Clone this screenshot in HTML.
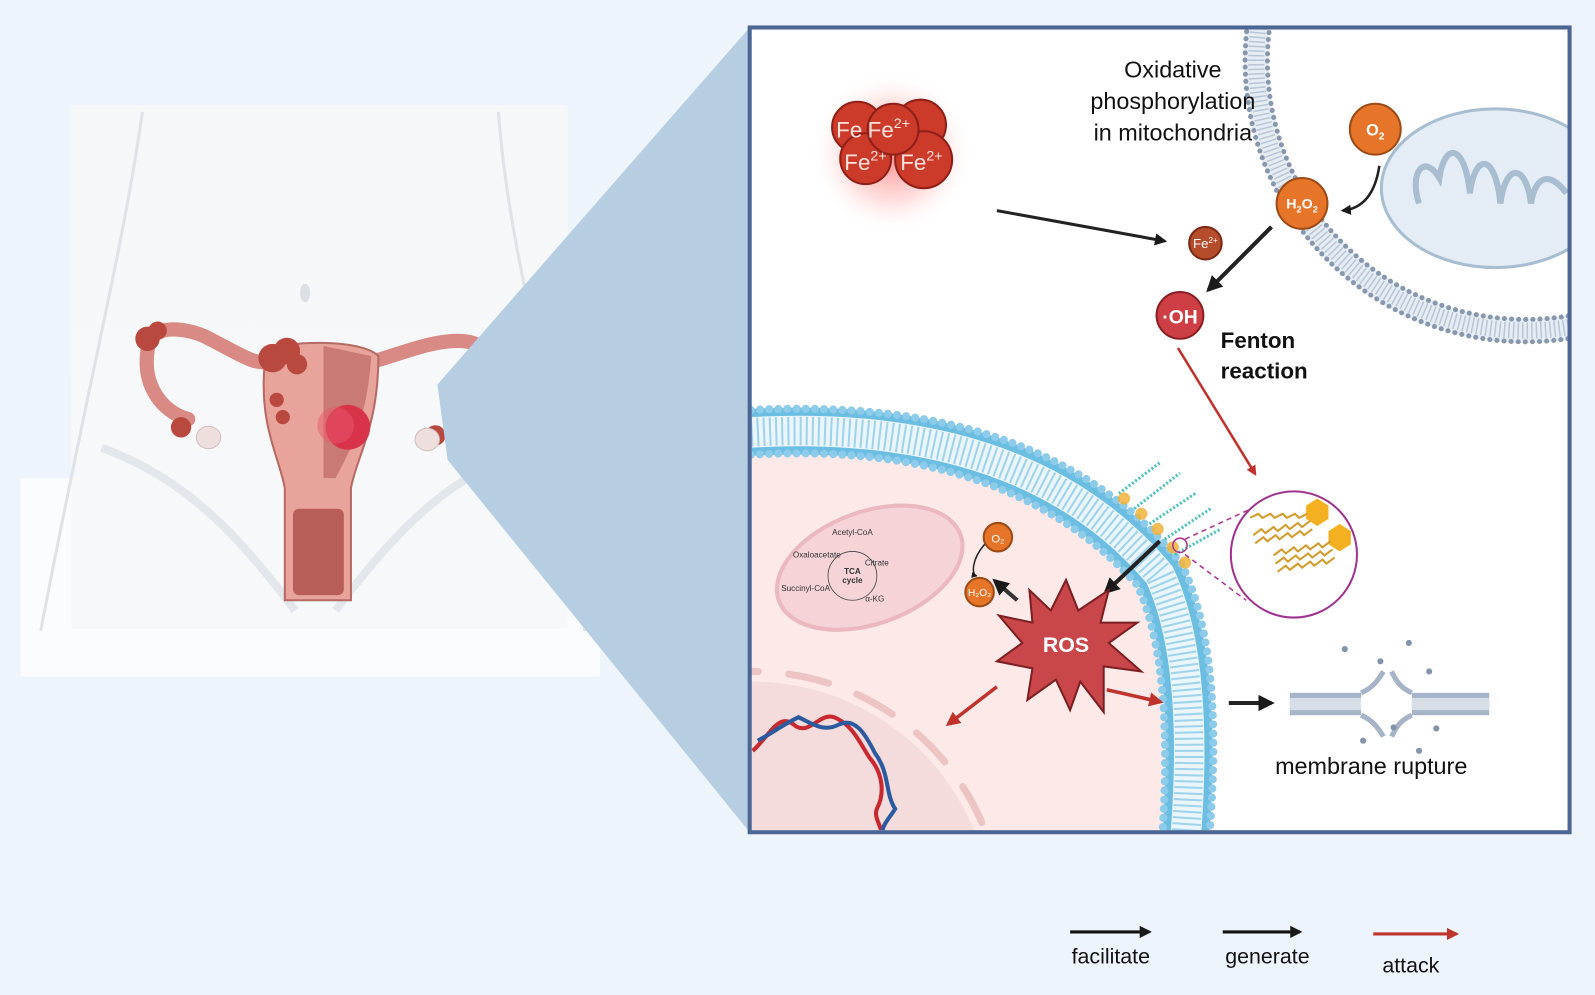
<!DOCTYPE html>
<html><head><meta charset="utf-8"><style>
html,body{margin:0;padding:0;background:#eef4fb;width:1595px;height:995px;overflow:hidden;}
svg{display:block;}
text{font-family:"Liberation Sans",sans-serif;}
</style></head><body>
<svg width="1595" height="995" viewBox="0 0 1568 978" preserveAspectRatio="none" xmlns="http://www.w3.org/2000/svg">
<defs>
<radialGradient id="glow"><stop offset="0" stop-color="#ff2a2a" stop-opacity="0.55"/><stop offset="0.6" stop-color="#ff6060" stop-opacity="0.2"/><stop offset="1" stop-color="#ffffff" stop-opacity="0"/></radialGradient>
<linearGradient id="bodyg" x1="0" y1="0" x2="0" y2="1"><stop offset="0" stop-color="#f5f7f9"/><stop offset="1" stop-color="#f7f8fa"/></linearGradient>
<marker id="ab" viewBox="0 0 10 10" refX="8" refY="5" markerWidth="4" markerHeight="4" orient="auto"><path d="M0,0 L10,5 L0,10 Z" fill="#1a1a1a"/></marker>
<marker id="ar" viewBox="0 0 10 10" refX="8" refY="5" markerWidth="4" markerHeight="4" orient="auto"><path d="M0,0 L10,5 L0,10 Z" fill="#c0332c"/></marker>
</defs>
<rect width="1568" height="978" fill="#eef4fb"/>
<!-- left panel -->
<rect x="20" y="470" width="570" height="195" fill="#fbfcfd"/>
<rect x="70" y="103" width="488" height="515" fill="url(#bodyg)"/>
<path d="M140,110 C120,250 90,360 40,620" fill="none" stroke="#dfe3e7" stroke-width="3"/>
<path d="M490,110 C500,250 540,360 575,620" fill="none" stroke="#dfe3e7" stroke-width="3"/>
<path d="M100,440 C180,470 230,520 290,600" fill="none" stroke="#e3e6ea" stroke-width="8"/>
<path d="M520,440 C440,470 390,520 330,600" fill="none" stroke="#e3e6ea" stroke-width="8"/>
<ellipse cx="300" cy="288" rx="5" ry="9" fill="#dcdfe3"/>
<!-- uterus -->
<g>
<path d="M145,345 C145,320 175,320 200,330 C240,350 250,360 270,355" fill="none" stroke="#d98a84" stroke-width="14" stroke-linecap="round"/>
<path d="M145,345 C140,380 160,405 185,412" fill="none" stroke="#d98a84" stroke-width="14" stroke-linecap="round"/>
<path d="M350,360 C390,350 420,335 450,335 C480,335 495,355 480,390 C470,410 455,420 445,425" fill="none" stroke="#d98a84" stroke-width="14" stroke-linecap="round"/>
<path d="M265,345 C275,335 355,332 372,350 C372,420 350,450 345,480 L345,590 L280,590 L280,480 C275,450 255,420 260,360 Z" fill="#e8a39b" stroke="#b66a64" stroke-width="2"/>
<path d="M318,340 L365,350 C360,420 340,450 330,470 L318,470 Z" fill="#c97a74"/>
<rect x="288" y="500" width="50" height="85" rx="6" fill="#b85d58"/>
<g fill="#b9483f">
<circle cx="145" cy="333" r="12"/><circle cx="155" cy="325" r="9"/>
<circle cx="268" cy="352" r="14"/><circle cx="282" cy="345" r="13"/><circle cx="292" cy="358" r="10"/>
<circle cx="272" cy="393" r="7"/><circle cx="278" cy="410" r="7"/>
<circle cx="178" cy="420" r="10"/><circle cx="428" cy="428" r="10"/><circle cx="470" cy="368" r="6"/>
</g>
<ellipse cx="205" cy="430" rx="12" ry="11" fill="#eedede" stroke="#d3bebe"/>
<ellipse cx="420" cy="432" rx="12" ry="11" fill="#eedede" stroke="#d3bebe"/>
<circle cx="342" cy="420" r="22" fill="#d9334a"/>
<circle cx="330" cy="418" r="18" fill="#e75a6b" opacity="0.5"/>
</g>
<!-- blue projection -->
<polygon points="430,378 737,27 737,818 440,452" fill="#b6cde2"/>
<!-- frame -->
<rect x="737" y="27" width="806" height="791" fill="#ffffff"/>
<clipPath id="fc"><rect x="739" y="29" width="802" height="787"/></clipPath>
<g clip-path="url(#fc)">
<circle cx="1500" cy="60" r="265" fill="none" stroke="#e6ecf3" stroke-width="24"/>
<circle cx="1500" cy="60" r="265" fill="none" stroke="#b8c6d6" stroke-width="16" stroke-dasharray="1.5 3"/>
<circle cx="1500" cy="60" r="276" fill="none" stroke="#8797ad" stroke-width="5" stroke-dasharray="0 7" stroke-linecap="round"/>
<circle cx="1500" cy="60" r="254" fill="none" stroke="#8797ad" stroke-width="5" stroke-dasharray="0 7" stroke-linecap="round"/>
<ellipse cx="1470" cy="185" rx="112" ry="78" fill="#e4edf6" stroke="#a9bdd0" stroke-width="3"/>
<path d="M1395,200 C1385,170 1400,150 1415,175 C1420,140 1440,140 1445,190 C1450,150 1470,150 1475,200 C1480,160 1500,160 1505,200 C1510,170 1525,170 1540,190" fill="none" stroke="#a9bdd0" stroke-width="6"/>
<!-- cell interior -->
<path d="M738,410 Q1000,395 1140,560 Q1175,650 1160,820 L738,820 Z" fill="#fdeae8"/>
<circle cx="740" cy="905" r="235" fill="#f4dcdc"/>
<circle cx="740" cy="905" r="245" fill="none" stroke="#ecc4c4" stroke-width="7" stroke-dasharray="40 30" stroke-linecap="round"/>
<!-- cell membrane -->
<path d="M738,425 Q1010,410 1140,565 Q1180,650 1165,830" fill="none" stroke="#6cbde2" stroke-width="46"/>
<path d="M738,425 Q1010,410 1140,565 Q1180,650 1165,830" fill="none" stroke="#eaf6fb" stroke-width="30"/>
<path d="M738,425 Q1010,410 1140,565 Q1180,650 1165,830" fill="none" stroke="#9fd3ec" stroke-width="28" stroke-dasharray="2 4"/>
<path d="M738,447 Q990,432 1118,575 Q1155,655 1142,830" fill="none" stroke="#8ccbe9" stroke-width="8" stroke-dasharray="0 9" stroke-linecap="round"/>
<path d="M738,403 Q1030,388 1162,555 Q1205,645 1188,830" fill="none" stroke="#8ccbe9" stroke-width="8" stroke-dasharray="0 9" stroke-linecap="round"/>
<!-- DNA -->
<path d="M740,738 C755,725 765,700 780,712 C795,725 805,700 820,705 C838,712 845,730 855,745 C868,760 870,780 862,795 C858,805 870,815 866,825" fill="none" stroke="#c8282e" stroke-width="4"/>
<path d="M745,728 C760,720 770,712 785,705 C800,712 810,720 825,712 C840,705 850,720 860,740 C875,760 870,780 880,795 C872,808 862,815 872,825" fill="none" stroke="#2b5a9e" stroke-width="4"/>
</g>
<rect x="737" y="27" width="806" height="791" fill="none" stroke="#4b6694" stroke-width="4"/>
<g stroke="#49c1bd" stroke-width="3" stroke-dasharray="2 2">
<line x1="1100" y1="485" x2="1140" y2="455"/><line x1="1115" y1="500" x2="1160" y2="465"/><line x1="1130" y1="515" x2="1175" y2="485"/><line x1="1145" y1="530" x2="1190" y2="500"/><line x1="1155" y1="545" x2="1200" y2="520"/>
</g>
<g fill="#f2b33a" opacity="0.85"><circle cx="1105" cy="490" r="6"/><circle cx="1122" cy="505" r="6"/><circle cx="1138" cy="520" r="6"/><circle cx="1153" cy="538" r="6"/><circle cx="1165" cy="553" r="6"/></g>
<circle cx="1160" cy="536" r="7" fill="none" stroke="#b0338f" stroke-width="1.5"/>
<path d="M1165,530 L1230,500 M1165,545 L1225,590" stroke="#b0338f" stroke-width="1.5" stroke-dasharray="5 4"/>
<circle cx="1272" cy="545" r="62" fill="#fff" stroke="#a0338f" stroke-width="2"/>
<polygon points="1295,490 1306,497 1306,510 1295,517 1284,510 1284,497" fill="#f4b021"/>
<polygon points="1317,515 1328,522 1328,535 1317,542 1306,535 1306,522" fill="#f4b021"/>
<g fill="none" stroke="#d39b2a" stroke-width="2">
<path d="M1285,505 l-8,4 l-4,-4 l-8,4 l-4,-4 l-8,4 l-4,-4 l-8,4 l-4,-4 l-8,4"/>
<path d="M1288,512 l-8,6 l-4,-4 l-8,6 l-4,-4 l-8,6 l-4,-4 l-8,6 l-4,-4 l-8,6"/>
<path d="M1290,520 l-8,6 l-4,-4 l-8,6 l-4,-4 l-8,6 l-4,-4 l-8,6 l-4,-4 l-8,6"/>
<path d="M1308,532 l-8,6 l-4,-4 l-8,6 l-4,-4 l-8,6 l-4,-4 l-8,6 l-4,-4 l-8,6"/>
<path d="M1310,540 l-8,6 l-4,-4 l-8,6 l-4,-4 l-8,6 l-4,-4 l-8,6 l-4,-4 l-8,6"/>
<path d="M1312,548 l-8,6 l-4,-4 l-8,6 l-4,-4 l-8,6 l-4,-4 l-8,6 l-4,-4 l-8,6"/>
</g>
<ellipse cx="855" cy="558" rx="95" ry="55" transform="rotate(-20 855 558)" fill="#f5d3d6" stroke="#eab8be" stroke-width="4"/>
<g font-size="8" fill="#333" text-anchor="middle">
<text x="838" y="526">Acetyl-CoA</text><text x="803" y="548">Oxaloacetate</text><text x="862" y="556">Citrate</text>
<text x="838" y="564" font-weight="bold">TCA</text><text x="838" y="573" font-weight="bold">cycle</text>
<text x="792" y="581">Succinyl-CoA</text><text x="860" y="591">α-KG</text>
</g>
<circle cx="838" cy="566" r="24" fill="none" stroke="#444" stroke-width="0.8"/>
<circle cx="981" cy="528" r="14" fill="#e6752a" stroke="#9c4a16" stroke-width="2"/><text x="981" y="533" font-size="11" fill="#fff" text-anchor="middle">O₂</text>
<circle cx="963" cy="582" r="14" fill="#e6752a" stroke="#9c4a16" stroke-width="2"/><text x="963" y="586" font-size="10" fill="#fff" text-anchor="middle">H₂O₂</text>
<path d="M968,535 C955,550 955,565 960,566" fill="none" stroke="#222" stroke-width="1.5" marker-end="url(#ab)"/>
<line x1="1000" y1="590" x2="978" y2="571" stroke="#333" stroke-width="4" marker-end="url(#ab)"/>
<line x1="1140" y1="532" x2="1087" y2="582" stroke="#222" stroke-width="4" marker-end="url(#ab)"/>
<polygon points="1048,570 1060,600 1090,580 1082,612 1118,612 1090,632 1122,660 1085,655 1085,700 1062,670 1052,698 1038,668 1010,688 1015,657 980,650 1005,632 982,605 1015,612 1012,580 1033,600" fill="#c9474b" stroke="#7b1f22" stroke-width="2"/>
<text x="1048" y="641" font-size="21" font-weight="bold" fill="#fff" text-anchor="middle">ROS</text>
<line x1="980" y1="675" x2="932" y2="712" stroke="#c0332c" stroke-width="3.5" marker-end="url(#ar)"/>
<line x1="1088" y1="678" x2="1141" y2="690" stroke="#c0332c" stroke-width="3.5" marker-end="url(#ar)"/>
<line x1="1208" y1="691" x2="1250" y2="691" stroke="#222" stroke-width="4" marker-end="url(#ab)"/>
<g>
<rect x="1268" y="681" width="70" height="22" fill="#a7b4c8"/><rect x="1388" y="681" width="76" height="22" fill="#a7b4c8"/>
<rect x="1268" y="686" width="70" height="12" fill="#d7dee8"/><rect x="1388" y="686" width="76" height="12" fill="#d7dee8"/>
<path d="M1338,681 C1350,676 1355,668 1360,660 M1338,703 C1350,708 1355,716 1360,724 M1388,681 C1376,676 1372,668 1368,660 M1388,703 C1376,708 1372,716 1368,724" stroke="#a7b4c8" stroke-width="5" fill="none"/>
<g fill="#8393a9"><circle cx="1322" cy="638" r="3"/><circle cx="1357" cy="650" r="3"/><circle cx="1385" cy="632" r="3"/><circle cx="1405" cy="660" r="3"/><circle cx="1340" cy="728" r="3"/><circle cx="1395" cy="738" r="3"/><circle cx="1370" cy="715" r="3"/><circle cx="1412" cy="716" r="3"/></g>
</g>
<text x="1348" y="761" font-size="23" fill="#111" text-anchor="middle">membrane rupture</text>
<circle cx="877" cy="150" r="80" fill="url(#glow)"/>
<g fill="#cc3a2a" stroke="#8f1f17" stroke-width="2">
<circle cx="843" cy="125" r="25"/><circle cx="905" cy="123" r="25"/><circle cx="851" cy="156" r="25"/><circle cx="908" cy="157" r="28"/><circle cx="878" cy="127" r="25"/>
</g>
<g fill="#fde2dc" font-size="22"><text x="822" y="135">Fe</text><text x="853" y="135">Fe<tspan font-size="14" dy="-9">2+</tspan></text><text x="830" y="167">Fe<tspan font-size="14" dy="-9">2+</tspan></text><text x="885" y="167">Fe<tspan font-size="14" dy="-9">2+</tspan></text></g>
<line x1="980" y1="207" x2="1145" y2="237" stroke="#222" stroke-width="3" marker-end="url(#ab)"/>
<circle cx="1185" cy="239" r="16" fill="#b54c2c" stroke="#7a2a12" stroke-width="2"/><text x="1185" y="244" font-size="13" fill="#fff" text-anchor="middle">Fe<tspan font-size="8" dy="-5">2+</tspan></text>
<circle cx="1352" cy="127" r="25" fill="#e6752a" stroke="#9c4a16" stroke-width="2"/><text x="1352" y="133" font-size="16" font-weight="bold" fill="#fff" text-anchor="middle">O<tspan font-size="10" dy="4">2</tspan></text>
<circle cx="1280" cy="200" r="25" fill="#e6752a" stroke="#9c4a16" stroke-width="2"/><text x="1280" y="205" font-size="14" font-weight="bold" fill="#fff" text-anchor="middle">H<tspan font-size="9" dy="4">2</tspan><tspan dy="-4">O</tspan><tspan font-size="9" dy="4">2</tspan></text>
<path d="M1356,163 C1352,190 1340,205 1320,207" fill="none" stroke="#222" stroke-width="2.5" marker-end="url(#ab)"/>
<line x1="1250" y1="223" x2="1188" y2="285" stroke="#222" stroke-width="4" marker-end="url(#ab)"/>
<circle cx="1160" cy="310" r="23" fill="#cd3f45" stroke="#8a1f23" stroke-width="2"/><text x="1160" y="318" font-size="19" font-weight="bold" fill="#fff" text-anchor="middle">·OH</text>
<line x1="1158" y1="342" x2="1234" y2="466" stroke="#c0332c" stroke-width="2.5" marker-end="url(#ar)"/>
<text x="1200" y="342" font-size="22" font-weight="bold" fill="#111">Fenton</text>
<text x="1200" y="372" font-size="22" font-weight="bold" fill="#111">reaction</text>
<g font-size="23" fill="#111" text-anchor="middle"><text x="1153" y="76">Oxidative</text><text x="1153" y="107">phosphorylation</text><text x="1153" y="138">in mitochondria</text></g>
<line x1="1052" y1="916" x2="1130" y2="916" stroke="#111" stroke-width="3" marker-end="url(#ab)"/>
<line x1="1202" y1="916" x2="1278" y2="916" stroke="#111" stroke-width="3" marker-end="url(#ab)"/>
<line x1="1350" y1="918" x2="1432" y2="918" stroke="#c0332c" stroke-width="3" marker-end="url(#ar)"/>
<g font-size="21" fill="#111" text-anchor="middle"><text x="1092" y="947">facilitate</text><text x="1246" y="947">generate</text><text x="1387" y="956">attack</text></g>
</svg>
</body></html>
